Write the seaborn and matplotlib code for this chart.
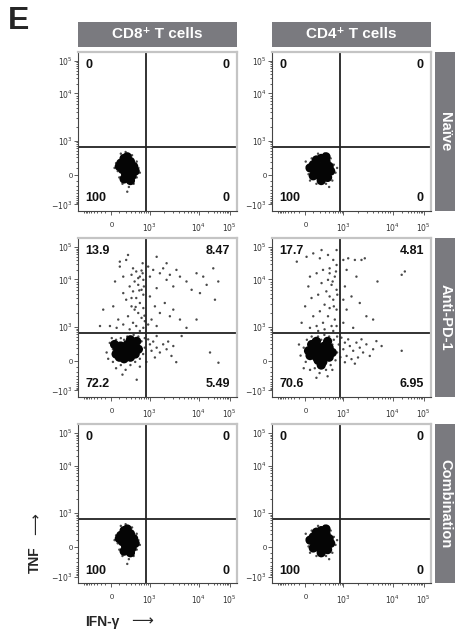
import numpy as np
import pandas as pd
import matplotlib
matplotlib.use('Agg')
import matplotlib.pyplot as plt
import seaborn as sns
from matplotlib.patches import Rectangle

# quadrant gates (fluorescence units)
gate_ifng = 800
gate_tnf = 650

cells = ['CD8⁺ T cells', 'CD4⁺ T cells']
treatments = ['Naïve', 'Anti-PD-1', 'Combination']

# quadrant percentages, row-major (treatment, cells)
q_ul = ['0', '0', '13.9', '17.7', '0', '0']
q_ur = ['0', '0', '8.47', '4.81', '0', '0']
q_ll = ['100', '100', '72.2', '70.6', '100', '100']
q_lr = ['0', '0', '5.49', '6.95', '0', '0']

# ---- CD8 naive (dense core + sparse halo) ----
cd8_naive_core_x = [121, 170, 224, 286, 360, 145, 195, 254, 322, 170, 224, 100, 286, 400, 195, 254]
cd8_naive_core_y = [179, 276, 152, 209, 124, 77, 11, 54, -12, -63, 315, 124, -90, 54, 100, 179]
cd8_naive_x = [58, 79, 121, 195, 322, 443, 495, 443, 360, 254, 145, 100, 39, 545, 224]
cd8_naive_y = [179, 54, 402, 455, 356, 209, 100, -38, -149, -217, -149, -38, 100, 32, -345]

# ---- CD4 naive ----
cd4_naive_core_x = [100, 145, 224, 322, 400, 121, 195, 286, 360, 170, 254, 58, 443, 224, 100, 322, 195]
cd4_naive_core_y = [152, 242, 276, 209, 124, 54, -12, 32, -38, 124, 124, 100, 54, -90, -12, 315, 54]
cd4_naive_x = [19, 39, 79, 170, 286, 443, 545, 607, 495, 322, 145, 58, 5, 400, 672]
cd4_naive_y = [124, 11, 276, 402, 402, 276, 152, 32, -90, -149, -149, -90, 209, -217, 100]

# ---- CD8 anti-PD-1 ----
cd8_pd1_core_x = [58, 100, 145, 195, 254, 322, 400, 121, 224, 360, 170, 286, 79, 495, 195, 443, 39, 286]
cd8_pd1_core_y = [100, 54, 152, 77, 124, 179, 100, 242, 276, 276, 32, 54, 179, 179, 179, 356, 276, 402]
cd8_pd1_x = (
    # lower left
    [-79, -26, 19, 5, 58, 121, 195, 286, 400, 545, 672, 745, 607, 495, 360, 224, 121, 58, -52, 19,
     100, 170, 286, 443, 607, 745, 825, 545, 145, 443]
    # lower right
    + [920, 1020, 1190, 1400, 1100, 1630, 1900, 2230, 2800, 1290, 3500, 2400, 3050, 23000, 43000, 4500, 1400]
    # upper left
    + [238, 205, 107, 345, 430, 310, 545, 680, 385, 490, 270, 607, 345, 680, 430, 205, 545, 310, 680, 385,
       490, 238, 607, 745, 345, 157, 430, 680, 270, 65, -23, -212, 545, 107, 45, 157, 310, 490, 650, 650,
       157, 23, -142, 86, 607, 705, 525, 413, 730]
    # upper right
    + [920, 1020, 1190, 1400, 1630, 1900, 2230, 2600, 3050, 3530, 4160, 5640, 7160, 9000, 10900, 13900,
       17900, 33200, 42500, 1020, 1290, 1630, 2050, 2600, 1100, 1400, 920, 3050, 4160, 5640, 9000, 1400,
       2230, 29300]
)
cd8_pd1_y = (
    [124, 315, -12, 455, -118, -63, -148, -63, -12, 32, 100, 209, 356, 510, 575, 510, 455, 402, 32, 179,
     315, 402, 242, 152, 179, 455, -12, -90, -255, -410]
    + [415, 280, 350, 209, 152, 124, 280, 179, 72, 50, -16, 350, 242, 124, -25, 530, 530]
    + [57000, 40000, 35400, 22000, 17600, 13900, 12200, 9800, 9050, 7700, 7130, 6070, 5620, 4790, 4080,
       3760, 3210, 2730, 2510, 2330, 1980, 1690, 1560, 1330, 1230, 1130, 1050, 945, 850, 945, 1050, 1050,
       760, 24900, 9050, 5170, 4080, 11000, 15500, 31600, 12200, 2730, 2330, 1440, 18800, 7130, 5890,
       2650, 1740]
    + [24900, 12200, 19700, 6560, 15500, 22000, 9800, 13900, 7130, 19700, 12200, 9050, 6070, 15500, 5170,
       12200, 7700, 3760, 9050, 4400, 2730, 1980, 3210, 1690, 1440, 1050, 1130, 2330, 1440, 945, 1440,
       50000, 31600, 22000]
)

# ---- CD4 anti-PD-1 ----
cd4_pd1_core_x = [58, 100, 145, 195, 254, 322, 400, 121, 195, 286, 400, 170, 254, 79, 495, 39, 360, 145, 224]
cd4_pd1_core_y = [77, 152, 54, 124, 77, 152, 54, 242, 209, 242, 209, 11, -12, 276, 124, 152, 356, 356, -63]
cd4_pd1_x = (
    [-79, -26, 5, 19, 58, 121, 195, 322, 443, 607, 672, 745, 545, 400, 286, 170, 79, -26, 39, 100,
     224, 495, 672, 360, 145, -108, 495]
    + [880, 1070, 1250, 990, 1350, 1580, 1840, 2150, 2510, 2930, 3430, 1160, 1460, 1980, 4010, 1070,
       2330, 19400, 5950, 4670, 1710, 825]
    + [15, 100, 200, 370, 525, 650, 413, 258, 148, 57, 580, 370, 230, 470, 650, 330, 172, 77, 525, 290,
       413, 650, 200, 100, 370, 580, 258, 148, 470, 57, 290, -61, -150, -3, 650, 525, 172, 413, 650, 230,
       37, 625, 505, 680, 413, 545]
    + [990, 1250, 1710, 2330, 2720, 1160, 1840, 1070, 1460, 2930, 4010, 1160, 990, 1580, 4910, 19400,
       24500, 2150, 990]
)
cd4_pd1_y = (
    [77, 209, -12, 402, -149, -118, -217, -149, -63, 11, 124, 276, 402, 510, 575, 510, 510, -118, 276, 402,
     402, 276, 510, -300, -345, 276, -149]
    + [470, 322, 415, 179, 242, 152, 322, 209, 124, 280, 72, 72, 27, 50, 179, -18, 415, 152, 242, 362, -40, 54]
    + [50000, 63700, 44900, 57000, 40000, 27900, 22000, 19700, 15500, 12200, 12200, 9800, 8380, 7700, 6070,
       5620, 4790, 4080, 3760, 2960, 2510, 2330, 2150, 1690, 1690, 1440, 1230, 1050, 1050, 945, 850, 1230,
       35400, 2730, 1050, 760, 760, 15500, 80700, 80700, 7130, 17600, 9050, 4790, 4400, 2730]
    + [40000, 44900, 40000, 40000, 44900, 19700, 12200, 7130, 4400, 1690, 1440, 2330, 1230, 945, 9050,
       13900, 17600, 3210, 3760]
)

# combination looks the same as naive
cd8_combo_core_x, cd8_combo_core_y = cd8_naive_core_x, cd8_naive_core_y
cd8_combo_x, cd8_combo_y = cd8_naive_x, cd8_naive_y
cd4_combo_core_x, cd4_combo_core_y = cd4_naive_core_x, cd4_naive_core_y
cd4_combo_x, cd4_combo_y = cd4_naive_x, cd4_naive_y

panels = {
    ('Naïve', cells[0]): (cd8_naive_core_x, cd8_naive_core_y, cd8_naive_x, cd8_naive_y),
    ('Naïve', cells[1]): (cd4_naive_core_x, cd4_naive_core_y, cd4_naive_x, cd4_naive_y),
    ('Anti-PD-1', cells[0]): (cd8_pd1_core_x, cd8_pd1_core_y, cd8_pd1_x, cd8_pd1_y),
    ('Anti-PD-1', cells[1]): (cd4_pd1_core_x, cd4_pd1_core_y, cd4_pd1_x, cd4_pd1_y),
    ('Combination', cells[0]): (cd8_combo_core_x, cd8_combo_core_y, cd8_combo_x, cd8_combo_y),
    ('Combination', cells[1]): (cd4_combo_core_x, cd4_combo_core_y, cd4_combo_x, cd4_combo_y),
}

frames = []
for (trt, cell), (cx, cy, ex, ey) in panels.items():
    frames.append(pd.DataFrame({'treatment': trt, 'cells': cell, 'kind': 'event', 'IFN': ex, 'TNF': ey}))
    frames.append(pd.DataFrame({'treatment': trt, 'cells': cell, 'kind': 'core', 'IFN': cx, 'TNF': cy}))
df = pd.concat(frames, ignore_index=True)

sns.set_style('white')
plt.rcParams['font.family'] = ['Liberation Sans', 'DejaVu Sans']

# biexponential-like display (asinh, anchored to the printed decades)
VX = np.array([-1500, 0, 1e3, 1e4, 1e5, 1.7e5])
FX = np.array([0, .21, .45, .76, .955, 1.0])
VY = np.array([-1600, -1e3, 0, 1e3, 1e4, 1e5, 1.9e5])
FY = np.array([0, .04, .225, .44, .74, .944, 1.0])
UX = np.arcsinh(VX / 200)
UY = np.arcsinh(VY / 200)


def fwd_x(v):
    return np.interp(np.arcsinh(np.asarray(v, float) / 200), UX, FX)


def inv_x(f):
    return 200 * np.sinh(np.interp(np.asarray(f, float), FX, UX))


def fwd_y(v):
    return np.interp(np.arcsinh(np.asarray(v, float) / 200), UY, FY)


def inv_y(f):
    return 200 * np.sinh(np.interp(np.asarray(f, float), FY, UY))


g = sns.relplot(data=df, x='IFN', y='TNF', row='treatment', col='cells',
                row_order=treatments, col_order=cells,
                hue='kind', size='kind', hue_order=['core', 'event'], size_order=['core', 'event'],
                palette={'core': '#050505', 'event': '#4a4a4a'}, sizes={'core': 44, 'event': 3},
                linewidth=0, alpha=1, legend=False, height=2, aspect=1,
                facet_kws=dict(sharex=False, sharey=False, despine=False))
g.set_titles('')
g.set_axis_labels('', '')

fig = g.figure
fig.set_size_inches(4.56, 6.35)
fig.subplots_adjust(left=.171, right=.945, top=.918, bottom=.082, wspace=.22, hspace=.173)

minor = ([v for v in range(-1000, 1000, 100) if v not in (-1000, 0)]
         + [m * 10 ** k for k in (3, 4) for m in range(2, 10)])

for i, trt in enumerate(treatments):
    for j, cell in enumerate(cells):
        ax = g.axes[i, j]
        ax.set_xscale('function', functions=(fwd_x, inv_x))
        ax.set_yscale('function', functions=(fwd_y, inv_y))
        ax.set_xlim(VX[0], VX[-1])
        ax.set_ylim(VY[0], VY[-1])
        ax.set_xticks([0, 1e3, 1e4, 1e5], ['0', '$10^3$', '$10^4$', '$10^5$'])
        ax.set_yticks([-1e3, 0, 1e3, 1e4, 1e5], ['$-10^3$', '0', '$10^3$', '$10^4$', '$10^5$'])
        ax.set_xticks(minor, minor=True)
        ax.set_yticks(minor, minor=True)
        ax.tick_params(which='both', direction='out', color='#444444', width=.6,
                       labelsize=5.5, labelcolor='#333333', left=True, bottom=True)
        ax.tick_params(which='major', length=3)
        ax.tick_params(which='minor', length=1.6)
        ax.tick_params(axis='x', pad=5)
        ax.tick_params(axis='y', pad=1)
        for s in ('left', 'bottom'):
            ax.spines[s].set_color('#444444')
            ax.spines[s].set_linewidth(.8)
        for s in ('top', 'right'):
            ax.spines[s].set_visible(True)
            ax.spines[s].set_color('#c4c4c4')
            ax.spines[s].set_linewidth(1.6)

        ax.axvline(gate_ifng, color='#222222', lw=1.3)
        ax.axhline(gate_tnf, color='#222222', lw=1.3)

        k = i * 2 + j
        qkw = dict(transform=ax.transAxes, fontsize=9, weight='bold', color='#111111')
        ax.text(.045, .955, q_ul[k], ha='left', va='top', **qkw)
        ax.text(.955, .955, q_ur[k], ha='right', va='top', **qkw)
        ax.text(.045, .04, q_ll[k], ha='left', va='bottom', **qkw)
        ax.text(.955, .04, q_lr[k], ha='right', va='bottom', **qkw)

        if i == 0:
            ax.add_patch(Rectangle((0, 1.032), 1, .158, transform=ax.transAxes, clip_on=False,
                                   facecolor='#7a7a7f', edgecolor='none'))
            ax.text(.5, 1.111, cell, transform=ax.transAxes, ha='center', va='center',
                    color='white', fontsize=11, weight='bold')
        if j == 1:
            ax.add_patch(Rectangle((1.025, 0), .2, 1, transform=ax.transAxes, clip_on=False,
                                   facecolor='#7a7a7f', edgecolor='none'))
            ax.text(1.09, .5, trt, transform=ax.transAxes, ha='center', va='center', rotation=-90,
                    color='white', fontsize=10.5, weight='bold')

fig.text(8 / 456, 1 - 6 / 635, 'E', ha='left', va='top', fontsize=23, weight='bold')
fig.text(35 / 456, 1 - 560 / 635, 'TNF', rotation=90, ha='center', va='center',
         fontsize=10, weight='bold')
fig.text(36 / 456, 1 - 524 / 635, '⟶', rotation=90, ha='center', va='center',
         fontsize=11, family='DejaVu Sans')
fig.text(85 / 456, 1 - 622 / 635, 'IFN-γ', ha='left', va='center', fontsize=10, weight='bold')
fig.text(131 / 456, 1 - 621 / 635, '⟶', ha='left', va='center', fontsize=11, family='DejaVu Sans')

fig.savefig('out.png', dpi=100)
